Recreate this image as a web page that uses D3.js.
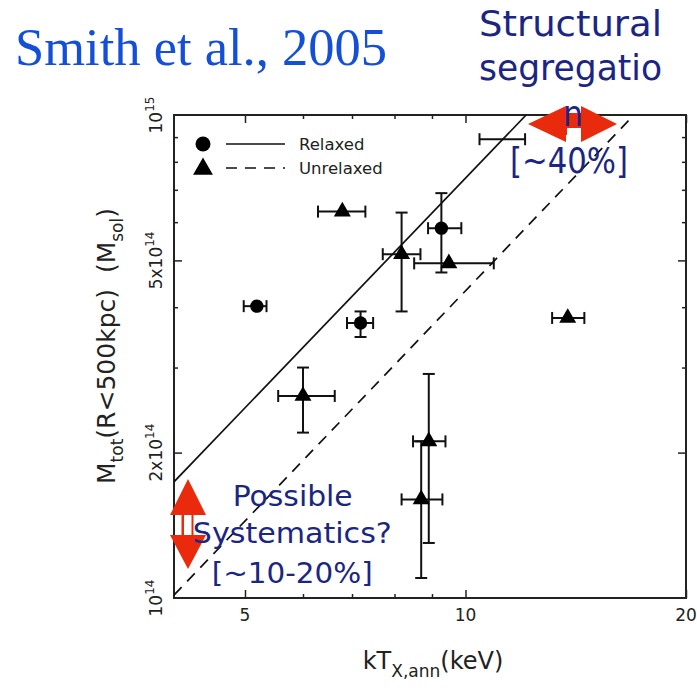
<!DOCTYPE html>
<html>
<head>
<meta charset="utf-8">
<script src="https://cdn.jsdelivr.net/npm/d3@7"></script>
<style>
  body { margin: 0; background: #fff; }
  svg { display: block; }
</style>
</head>
<body>
<script>
// cluster data: temperature (keV) and mass (units of 1e14 Msol)
const clusterType = ['U', 'R', 'U', 'U', 'R', 'R', 'U', 'U', 'U', 'U', 'none'];
const tempMid = [6.79, 9.27, 9.49, 8.18, 5.19, 7.19, 13.79, 6.00, 8.91, 8.70, 11.23];
const tempLo = [6.29, 8.89, 8.51, 7.71, 4.98, 6.89, 13.13, 5.55, 8.48, 8.18, 10.45];
const tempHi = [7.30, 9.87, 10.93, 8.68, 5.35, 7.48, 14.53, 6.63, 9.39, 9.30, 12.06];
const massMid = [6.31, 5.83, 4.93, 5.15, 4.02, 3.71, 3.80, 2.62, 2.11, 1.60, 8.91];
const massLo = [null, 4.72, null, 3.92, null, 3.47, null, 2.20, 1.30, 1.10, null];
const massHi = [null, 6.89, null, 6.28, null, 3.92, null, 3.00, 2.91, 2.11, null];

// fitted relations (end points, T in keV, M in 1e14 Msol)
const relaxedFitT = [4, 12.1];
const relaxedFitM = [1.74, 10];
const unrelaxedFitT = [4, 16.98];
const unrelaxedFitM = [1.014, 10];

// axes
const xMajorTicks = [5, 10, 20];
const xMinorTicks = [6, 7, 8, 9];
const yMajorTicks = [2, 5];
const yMinorTicks = [3, 4, 6, 7, 8, 9];
const yTickValues = [1, 2, 5, 10];
const yTickMantissa = ['', '2x', '5x', ''];
const yTickExponent = ['14', '14', '14', '15'];

const width = 697, height = 695;
const plotText = '#222';
const navy = '#1b2584';
const red = '#ea2a0c';

const svg = d3.select('body').append('svg')
    .attr('width', width)
    .attr('height', height);

const x = d3.scaleLog().domain([4, 20]).range([174, 686]);
const y = d3.scaleLog().domain([1, 10]).range([598, 115]);

// title
svg.append('text')
    .attr('x', 15)
    .attr('y', 65)
    .attr('font-family', 'Liberation Serif, Times New Roman, serif')
    .attr('font-size', 52)
    .attr('fill', '#1450d7')
    .attr('textLength', 372)
    .attr('lengthAdjust', 'spacingAndGlyphs')
    .text('Smith et al., 2005');

// tick marks on all four sides
function addTicks(axisFn, values, size, transform) {
    svg.append('g')
        .attr('transform', transform)
        .call(axisFn.tickValues(values).tickSize(size).tickFormat(''))
        .call(g => g.select('.domain').remove())
        .call(g => g.selectAll('line').attr('stroke', plotText).attr('stroke-width', 1.5));
}
addTicks(d3.axisBottom(x), xMajorTicks, -8, 'translate(0,598)');
addTicks(d3.axisBottom(x), xMinorTicks, -4, 'translate(0,598)');
addTicks(d3.axisTop(x), xMajorTicks, -8, 'translate(0,115)');
addTicks(d3.axisTop(x), xMinorTicks, -4, 'translate(0,115)');
addTicks(d3.axisLeft(y), yMajorTicks, -8, 'translate(174,0)');
addTicks(d3.axisLeft(y), yMinorTicks, -4, 'translate(174,0)');
addTicks(d3.axisRight(y), yMajorTicks, -8, 'translate(686,0)');
addTicks(d3.axisRight(y), yMinorTicks, -4, 'translate(686,0)');

// frame
svg.append('rect')
    .attr('x', x(4))
    .attr('y', y(10))
    .attr('width', x(20) - x(4))
    .attr('height', y(1) - y(10))
    .attr('fill', 'none')
    .attr('stroke', plotText)
    .attr('stroke-width', 2);

// x tick labels
svg.append('g').selectAll('text')
    .data(xMajorTicks)
    .join('text')
    .attr('x', d => x(d))
    .attr('y', 621)
    .attr('text-anchor', 'middle')
    .attr('font-family', 'DejaVu Sans, sans-serif')
    .attr('font-size', 17)
    .attr('fill', plotText)
    .text(d => d);

// y tick labels, rotated, with superscripts
const yLabels = svg.append('g').selectAll('text')
    .data(yTickValues)
    .join('text')
    .attr('transform', d => 'translate(162,' + y(d) + ') rotate(-90)')
    .attr('text-anchor', 'middle')
    .attr('font-family', 'DejaVu Sans, sans-serif')
    .attr('font-size', 17)
    .attr('fill', plotText);
yLabels.append('tspan').text((d, i) => yTickMantissa[i] + '10');
yLabels.append('tspan')
    .attr('dy', -8)
    .attr('font-size', 12)
    .text((d, i) => yTickExponent[i]);

// axis titles
const xTitle = svg.append('text')
    .attr('x', 433)
    .attr('y', 669)
    .attr('text-anchor', 'middle')
    .attr('font-family', 'DejaVu Sans, sans-serif')
    .attr('font-size', 24)
    .attr('fill', plotText);
xTitle.append('tspan').text('kT');
xTitle.append('tspan').attr('dy', 8).attr('font-size', 17).text('X,ann');
xTitle.append('tspan').attr('dy', -8).text('(keV)');

const yTitle = svg.append('text')
    .attr('transform', 'translate(115,346) rotate(-90)')
    .attr('text-anchor', 'middle')
    .attr('font-family', 'DejaVu Sans, sans-serif')
    .attr('font-size', 25)
    .attr('fill', plotText);
yTitle.append('tspan').text('M');
yTitle.append('tspan').attr('dy', 8).attr('font-size', 17).text('tot');
yTitle.append('tspan').attr('dy', -8).text('(R<500kpc)\u00a0\u00a0(M');
yTitle.append('tspan').attr('dy', 8).attr('font-size', 17).text('sol');
yTitle.append('tspan').attr('dy', -8).text(')');

// fits, clipped to the frame
svg.append('clipPath').attr('id', 'plot-clip')
    .append('rect')
    .attr('x', x(4)).attr('y', y(10))
    .attr('width', x(20) - x(4)).attr('height', y(1) - y(10));

const fitLine = d3.line().x(d => x(d[0])).y(d => y(d[1]));
svg.append('path')
    .attr('d', fitLine(d3.zip(relaxedFitT, relaxedFitM)))
    .attr('clip-path', 'url(#plot-clip)')
    .attr('fill', 'none')
    .attr('stroke', '#111')
    .attr('stroke-width', 1.7);
svg.append('path')
    .attr('d', fitLine(d3.zip(unrelaxedFitT, unrelaxedFitM)))
    .attr('clip-path', 'url(#plot-clip)')
    .attr('fill', 'none')
    .attr('stroke', '#111')
    .attr('stroke-width', 1.7)
    .attr('stroke-dasharray', '11,8');

// error bars
const cap = 6;
const bars = svg.append('g')
    .attr('stroke', '#111')
    .attr('stroke-width', 2);
tempMid.forEach((t, i) => {
    const cy = y(massMid[i]);
    bars.append('line')
        .attr('x1', x(tempLo[i])).attr('x2', x(tempHi[i]))
        .attr('y1', cy).attr('y2', cy);
    [tempLo[i], tempHi[i]].forEach(v => {
        bars.append('line')
            .attr('x1', x(v)).attr('x2', x(v))
            .attr('y1', cy - cap).attr('y2', cy + cap);
    });
    if (massLo[i] != null) {
        const cx = x(t);
        bars.append('line')
            .attr('x1', cx).attr('x2', cx)
            .attr('y1', y(massLo[i])).attr('y2', y(massHi[i]));
        [massLo[i], massHi[i]].forEach(v => {
            bars.append('line')
                .attr('x1', cx - cap).attr('x2', cx + cap)
                .attr('y1', y(v)).attr('y2', y(v));
        });
    }
});

// markers
const circleSym = d3.symbol().type(d3.symbolCircle).size(140);
const triangleSym = d3.symbol().type(d3.symbolTriangle).size(125);
svg.append('g').selectAll('path')
    .data(d3.range(tempMid.length).filter(i => clusterType[i] !== 'none'))
    .join('path')
    .attr('transform', i => 'translate(' + x(tempMid[i]) + ',' + y(massMid[i]) + ')')
    .attr('d', i => clusterType[i] === 'R' ? circleSym() : triangleSym())
    .attr('fill', '#000');

// legend
const legend = svg.append('g');
legend.append('path')
    .attr('transform', 'translate(203,144)')
    .attr('d', d3.symbol().type(d3.symbolCircle).size(177)())
    .attr('fill', '#000');
legend.append('path')
    .attr('transform', 'translate(203,169)')
    .attr('d', d3.symbol().type(d3.symbolTriangle).size(170)())
    .attr('fill', '#000');
legend.append('line')
    .attr('x1', 226).attr('x2', 285).attr('y1', 144).attr('y2', 144)
    .attr('stroke', '#111').attr('stroke-width', 1.7);
legend.append('line')
    .attr('x1', 226).attr('x2', 285).attr('y1', 168).attr('y2', 168)
    .attr('stroke', '#111').attr('stroke-width', 1.7)
    .attr('stroke-dasharray', '11,8');
legend.selectAll('text')
    .data(['Relaxed', 'Unrelaxed'])
    .join('text')
    .attr('x', 299)
    .attr('y', (d, i) => 150 + i * 24)
    .attr('font-family', 'DejaVu Sans, sans-serif')
    .attr('font-size', 16.5)
    .attr('fill', plotText)
    .text(d => d);

// red arrows
const arrows = svg.append('g').attr('fill', red);
// horizontal, top right
arrows.append('path').attr('d', 'M528,124 L566,106 L566,142 Z');
arrows.append('path').attr('d', 'M617,124 L581,106 L581,142 Z');
arrows.append('rect').attr('x', 565).attr('y', 113).attr('width', 17).attr('height', 22);
svg.append('rect').attr('x', 567).attr('y', 128).attr('width', 14).attr('height', 14).attr('fill', '#fff');
// vertical, bottom left
arrows.append('path').attr('d', 'M188,479 L170,515 L206,515 Z');
arrows.append('path').attr('d', 'M188,569 L170,535 L206,535 Z');
arrows.append('rect').attr('x', 181.5).attr('y', 514).attr('width', 12).attr('height', 22);
svg.append('rect').attr('x', 184).attr('y', 515).attr('width', 7.5).attr('height', 20).attr('fill', '#fff');

// annotations
function annotate(str, cx, baseline, size, len) {
    svg.append('text')
        .attr('x', cx)
        .attr('y', baseline)
        .attr('text-anchor', 'middle')
        .attr('font-family', 'DejaVu Sans, sans-serif')
        .attr('font-size', size)
        .attr('fill', navy)
        .attr('textLength', len)
        .attr('lengthAdjust', 'spacingAndGlyphs')
        .text(str);
}
annotate('Structural', 570.5, 36, 36, 183);
annotate('segregatio', 570.5, 80, 36, 183);
annotate('n', 573, 126, 36, 20);
annotate('[~40%]', 569, 173, 36, 118);
annotate('Possible', 292.7, 506, 29, 120);
annotate('Systematics?', 292.3, 543, 29, 199);
annotate('[~10-20%]', 292.2, 583, 29, 161);
</script>
</body>
</html>
